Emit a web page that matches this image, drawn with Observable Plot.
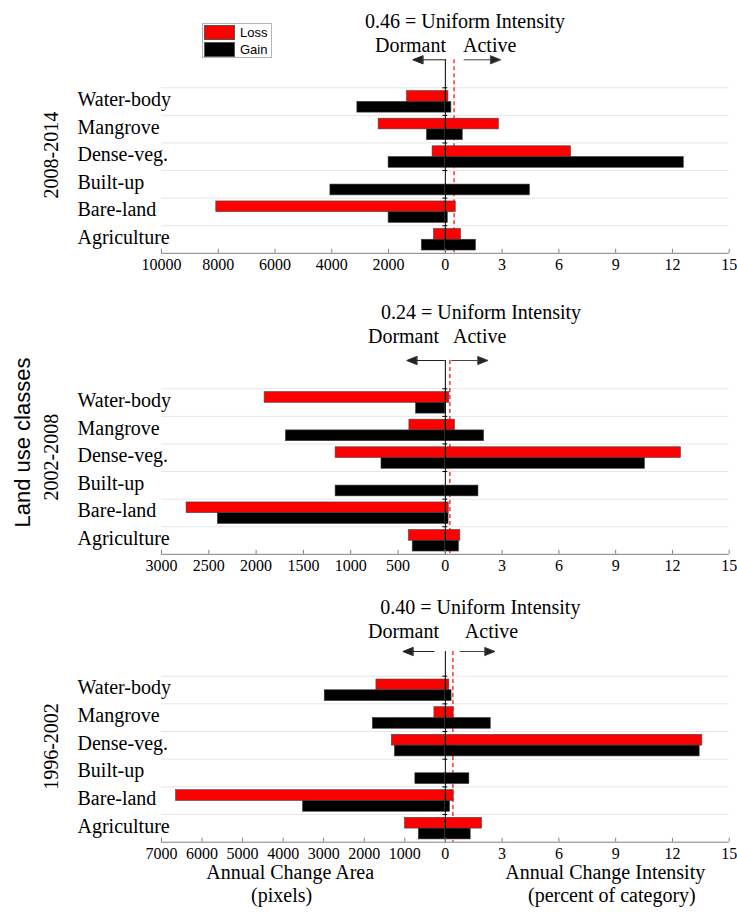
<!DOCTYPE html>
<html>
<head>
<meta charset="utf-8">
<script src="https://cdn.jsdelivr.net/npm/d3@7"></script>
<script src="https://cdn.jsdelivr.net/npm/@observablehq/plot@0.6"></script>
<style>
  html, body { margin: 0; padding: 0; background: #fff; }
  #chart { position: relative; width: 737px; height: 913px; overflow: hidden; background: #fff; }
  #chart svg { position: absolute; left: 0; overflow: visible; }
  .legend { position: absolute; left: 202px; top: 23px; width: 68px; height: 33px; border: 1px solid #b5b5b5;
            font-family: "Liberation Sans", Arial, sans-serif; font-size: 13px; color: #000; background: #fff; z-index: 5; }
  .legend .sw { position: absolute; left: 1px; width: 31px; box-sizing: border-box; border: 1px solid #555; }
  .legend .lb { position: absolute; left: 37px; line-height: 13px; }
</style>
</head>
<body>
<div id="chart"></div>
<script>
// ---------- data ----------
const categories = ["Water-body", "Mangrove", "Dense-veg.", "Built-up", "Bare-land", "Agriculture"];
const periods = ["2008-2014", "2002-2008", "1996-2002"];
const uniformIntensity = [0.46, 0.24, 0.40];
const seriesNames = ["Loss", "Gain"];

// left half: annual change area (pixels)
const areaAxisMax = [10000, 3000, 7000];
const areaTicks = [
  [10000, 8000, 6000, 4000, 2000, 0],
  [3000, 2500, 2000, 1500, 1000, 500, 0],
  [7000, 6000, 5000, 4000, 3000, 2000, 1000, 0]
];
// right half: annual change intensity (percent of category)
const intensityAxisMax = 15;
const intensityTicks = [3, 6, 9, 12, 15];

// 2008-2014
const lossArea_2008_2014 = [1350, 2350, 450, 0, 8070, 400];
const gainArea_2008_2014 = [3100, 650, 2000, 4050, 2000, 830];
const lossIntensity_2008_2014 = [0.16, 2.83, 6.64, 0, 0.55, 0.83];
const gainIntensity_2008_2014 = [0.32, 0.92, 12.6, 4.47, 0.13, 1.62];
// 2002-2008
const lossArea_2002_2008 = [1910, 380, 1160, 0, 2735, 385];
const gainArea_2002_2008 = [310, 1685, 675, 1160, 2405, 345];
const lossIntensity_2002_2008 = [0.21, 0.51, 12.45, 0, 0.18, 0.79];
const gainIntensity_2002_2008 = [0.04, 2.05, 10.55, 1.75, 0.17, 0.72];
// 1996-2002
const lossArea_1996_2002 = [1700, 270, 1320, 0, 6640, 995];
const gainArea_1996_2002 = [2975, 1790, 1245, 740, 3510, 655];
const lossIntensity_1996_2002 = [0.21, 0.44, 13.58, 0, 0.44, 1.94];
const gainIntensity_1996_2002 = [0.33, 2.4, 13.44, 1.27, 0.25, 1.34];

const lossArea = [lossArea_2008_2014, lossArea_2002_2008, lossArea_1996_2002];
const gainArea = [gainArea_2008_2014, gainArea_2002_2008, gainArea_1996_2002];
const lossIntensity = [lossIntensity_2008_2014, lossIntensity_2002_2008, lossIntensity_1996_2002];
const gainIntensity = [gainIntensity_2008_2014, gainIntensity_2002_2008, gainIntensity_1996_2002];

// ---------- layout (pixels) ----------
const layout = [
  {top: 0,   height: 290, marginTop: 87.3, marginBottom: 37.2, titleDx: 19.7, titleDy: -74.2, dormDx: 0.7,  actDx: 17.7, arrowDy: -28,   lArrowDx: 0.4,  lArrowLen: 33,   rArrowDx: 18.7, rArrowLen: 36.7, periodDy: -15.5},
  {top: 290, height: 290, marginTop: 98.3, marginBottom: 26.2, titleDx: 35.7, titleDy: -84.2, dormDx: -6.3, actDx: 7.7,  arrowDy: -28.3, lArrowDx: -1,   lArrowLen: 37.6, rArrowDx: 6.3,  rArrowLen: 36.4, periodDy: -14.5},
  {top: 580, height: 333, marginTop: 95.7, marginBottom: 71.3, titleDx: 35,   titleDy: -76.6, dormDx: -6.3, actDx: 19.5, arrowDy: -24.7, lArrowDx: -11.3, lArrowLen: 31.2, rArrowDx: 14.7, rArrowLen: 35,  periodDy: -12.7}
];
const serif = "'Liberation Serif', 'Times New Roman', serif";
const sans = "'Liberation Sans', Arial, sans-serif";

const arrowShape = {
  draw(context, l) {
    const h = 10, w = 4;
    context.moveTo(0, 0);
    context.lineTo(0, -(l - h));
    context.moveTo(-w, -(l - h));
    context.lineTo(0, -l);
    context.lineTo(w, -(l - h));
    context.closePath();
  }
};

function buildPanel(i) {
  const L = layout[i];
  const k = intensityAxisMax / areaAxisMax[i]; // left half shares the frame width with the right half
  const bars = [];
  categories.forEach((cat, j) => {
    const parts = [
      ["Loss", -lossArea[i][j] * k, 0, j + 0.12, j + 0.508],
      ["Loss", 0, lossIntensity[i][j], j + 0.12, j + 0.508],
      ["Gain", -gainArea[i][j] * k, 0, j + 0.508, j + 0.9],
      ["Gain", 0, gainIntensity[i][j], j + 0.508, j + 0.9]
    ];
    for (const [kind, x1, x2, y1, y2] of parts) if (x1 !== x2) bars.push({kind, cat, x1, x2, y1, y2});
  });
  const rows = categories.map((cat, j) => ({cat, j}));
  const tickPositions = areaTicks[i].map(t => -t * k).concat(intensityTicks);
  const fmt = v => v < 0 ? String(Math.round(-v / k)) : String(Math.round(v * 100) / 100);

  const marks = [
    Plot.ruleY(d3.range(6), {y: d => d, stroke: "#e6e6e6", strokeWidth: 1}),
    Plot.ruleX([uniformIntensity[i]], {x: d => d, stroke: "#ff0000", strokeWidth: 1.2, strokeDasharray: "4,3", insetTop: L.arrowDy}),
    Plot.rect(bars, {x1: "x1", x2: "x2", y1: "y1", y2: "y2", fill: "kind", stroke: "#444", strokeWidth: 0.6}),
    Plot.ruleX([0], {x: d => d, stroke: "#000", strokeWidth: 1, insetTop: L.arrowDy}),
    Plot.ruleY(d3.range(6), {y: d => d, x1: -0.13, x2: 0.13, stroke: "#000", strokeWidth: 1}),
    Plot.ruleY([6], {y: d => d, stroke: "#808080", strokeWidth: 1}),
    Plot.axisX(tickPositions, {tickSize: 4, dy: -4, fill: "none", stroke: "#808080", label: null}),
    Plot.axisX(tickPositions, {tickSize: 0, tickPadding: 5, tickFormat: fmt, fontSize: 16, fontFamily: serif, fill: "#000", label: null}),
    Plot.text(rows, {y: d => d.j + 0.5, frameAnchor: "left", dx: -84, dy: -2, textAnchor: "start", text: "cat", fontSize: 20, fontFamily: serif, fill: "#000"}),
    Plot.text([periods[i]], {frameAnchor: "left", dx: -110, dy: L.periodDy, rotate: -90, textAnchor: "middle", text: d => d, fontSize: 20, fontFamily: serif, fill: "#000"}),
    Plot.text([{x: 0, t: `${uniformIntensity[i].toFixed(2)} = Uniform Intensity`}], {x: "x", frameAnchor: "top", dx: L.titleDx, dy: L.titleDy, textAnchor: "middle", text: "t", fontSize: 20, fontFamily: serif, fill: "#000"}),
    Plot.text([{x: 0, t: "Dormant"}], {x: "x", frameAnchor: "top", dx: L.dormDx, dy: L.titleDy + 24, textAnchor: "end", text: "t", fontSize: 20, fontFamily: serif, fill: "#000"}),
    Plot.text([{x: 0, t: "Active"}], {x: "x", frameAnchor: "top", dx: L.actDx, dy: L.titleDy + 24, textAnchor: "start", text: "t", fontSize: 20, fontFamily: serif, fill: "#000"}),
    Plot.vector([{x: 0}], {x: "x", frameAnchor: "top", dx: L.lArrowDx, dy: L.arrowDy, rotate: -90, length: L.lArrowLen, anchor: "start", shape: arrowShape, stroke: "#222", fill: "#222", strokeWidth: 1}),
    Plot.vector([{x: 0}], {x: "x", frameAnchor: "top", dx: L.rArrowDx, dy: L.arrowDy, rotate: 90, length: L.rArrowLen, anchor: "start", shape: arrowShape, stroke: "#444", fill: "#222", strokeWidth: 1})
  ];
  if (i === 1) {
    marks.push(Plot.text(["Land use classes"], {frameAnchor: "left", dx: -139, dy: -29, rotate: -90, textAnchor: "middle", text: d => d, fontSize: 22, fontFamily: sans, fill: "#000"}));
  }
  if (i === 2) {
    marks.push(Plot.text([
      {x: -8.2, t: "Annual Change Area"},
      {x: 8.45, t: "Annual Change Intensity"}
    ], {x: "x", frameAnchor: "bottom", dy: 37, textAnchor: "middle", text: "t", fontSize: 20, fontFamily: serif, fill: "#000"}));
    marks.push(Plot.text([
      {x: -8.65, t: "(pixels)"},
      {x: 8.8, t: "(percent of category)"}
    ], {x: "x", frameAnchor: "bottom", dy: 60, textAnchor: "middle", text: "t", fontSize: 20, fontFamily: serif, fill: "#000"}));
  }

  const svg = Plot.plot({
    width: 737,
    height: L.height,
    marginLeft: 161,
    marginRight: 8.3,
    marginTop: L.marginTop,
    marginBottom: L.marginBottom,
    x: {domain: [-intensityAxisMax, intensityAxisMax], axis: null, label: null},
    y: {domain: [0, 6], reverse: true, axis: null, label: null},
    color: {domain: seriesNames, range: ["#ff0000", "#000000"]},
    style: {fontFamily: serif, fontSize: "20px", overflow: "visible", background: "transparent", color: "#000"},
    marks
  });
  svg.style.top = L.top + "px";
  return svg;
}

const chart = document.getElementById("chart");
for (let i = 0; i < periods.length; i++) chart.appendChild(buildPanel(i));

// legend
const legend = document.createElement("div");
legend.className = "legend";
legend.innerHTML =
  `<div class="sw" style="top:1px;height:15px;background:#ff0000"></div>` +
  `<div class="lb" style="top:2px">${seriesNames[0]}</div>` +
  `<div class="sw" style="top:18px;height:15px;background:#000000"></div>` +
  `<div class="lb" style="top:19px">${seriesNames[1]}</div>`;
chart.appendChild(legend);
</script>
</body>
</html>
